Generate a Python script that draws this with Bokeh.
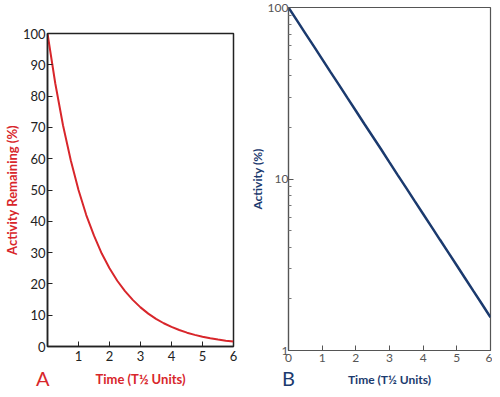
from bokeh.plotting import figure
from bokeh.layouts import row, column
from bokeh.models import (FixedTicker, Range1d, PrintfTickFormatter,
                          LinearAxis)
from bokeh.embed import file_html
from bokeh.resources import INLINE

# Data
time_units = [0, 0.25, 0.5, 0.75, 1, 1.25, 1.5, 1.75, 2, 2.25, 2.5, 2.75, 3,
              3.25, 3.5, 3.75, 4, 4.25, 4.5, 4.75, 5, 5.25, 5.5, 5.75, 6]
activity_pct = [100, 84.1, 70.7, 59.5, 50, 42.0, 35.4, 29.7, 25, 21.0, 17.7,
                14.9, 12.5, 10.5, 8.84, 7.43, 6.25, 5.26, 4.42, 3.72, 3.13,
                2.63, 2.21, 1.86, 1.56]
x_ticks_a = [1, 2, 3, 4, 5, 6]
y_ticks_a = [0, 10, 20, 30, 40, 50, 60, 70, 80, 90, 100]
x_ticks_b = [0, 1, 2, 3, 4, 5, 6]
y_ticks_b = [1, 10, 100]
y_minor_b = [2, 3, 4, 5, 6, 7, 8, 9, 20, 30, 40, 50, 60, 70, 80, 90]
panel_letters = ["A\u00a0\u00a0", "B"]

RED = "#d8262b"
BLUE = "#1b3a6e"
FONT = "Lato"
XLABEL = "Time (T½ Units)"


def letter_axis(text, color, label_size, s1, s2):
    # bare axis below the x axis: its single tick label is the panel letter,
    # its axis label is the x-axis title (pulled up to the letter's line)
    return LinearAxis(ticker=FixedTicker(ticks=[0]),
                      major_label_overrides={0: text},
                      axis_line_color=None, major_tick_line_color=None,
                      minor_tick_line_color=None,
                      major_tick_in=0, major_tick_out=0,
                      major_label_text_font=FONT,
                      major_label_text_font_size="20px",
                      major_label_text_color=color,
                      major_label_standoff=s1,
                      axis_label=XLABEL,
                      axis_label_text_font=FONT,
                      axis_label_text_font_style="bold",
                      axis_label_text_color=color,
                      axis_label_text_font_size=label_size,
                      axis_label_standoff=s2)


# ---- Panel A (linear) ----
pa = figure(width=246, height=389, output_backend="svg", toolbar_location=None,
            x_range=Range1d(0, 6), y_range=Range1d(0, 100),
            min_border_left=0, min_border_right=13, min_border_top=33,
            min_border_bottom=0)
pa.line(time_units, activity_pct, line_color=RED, line_width=2)
pa.grid.visible = False
pa.outline_line_color = "#222222"
pa.outline_line_width = 1.5

pa.xaxis.ticker = FixedTicker(ticks=x_ticks_a)
pa.yaxis.ticker = FixedTicker(ticks=y_ticks_a)
for ax in (pa.xaxis[0], pa.yaxis[0]):
    ax.axis_line_color = "#222222"
    ax.axis_line_width = 1.5
    ax.major_tick_line_color = "#222222"
    ax.major_tick_in = 5
    ax.major_tick_out = 0
    ax.minor_tick_line_color = None
    ax.major_label_text_font = FONT
    ax.major_label_text_font_size = "13px"
    ax.major_label_text_color = "#222222"
    ax.axis_label_text_font = FONT
    ax.axis_label_text_font_style = "bold"
    ax.axis_label_text_color = RED
    ax.axis_label_text_font_size = "13px"
pa.yaxis.major_label_standoff = 2
pa.xaxis.major_label_standoff = 4
pa.yaxis.axis_label = "Activity Remaining (%)"
pa.yaxis.axis_label_standoff = 0
pa.add_layout(letter_axis(panel_letters[0], RED, "13px", 2, -22), "below")

# ---- Panel B (log) ----
pb = figure(width=246, height=389, output_backend="svg", toolbar_location=None,
            x_range=Range1d(0, 6), y_range=Range1d(1, 100), y_axis_type="log",
            min_border_left=42, min_border_right=2, min_border_top=7,
            min_border_bottom=0)
pb.line(time_units, activity_pct, line_color=BLUE, line_width=2.5)
pb.grid.visible = False
pb.outline_line_color = "#555555"
pb.outline_line_width = 1.2

pb.xaxis.ticker = FixedTicker(ticks=x_ticks_b)
pb.yaxis.ticker = FixedTicker(ticks=y_ticks_b, minor_ticks=y_minor_b)
pb.yaxis.formatter = PrintfTickFormatter(format="%d")
for ax in (pb.xaxis[0], pb.yaxis[0]):
    ax.axis_line_color = "#555555"
    ax.axis_line_width = 1.2
    ax.major_tick_line_color = "#555555"
    ax.minor_tick_line_color = "#777777"
    ax.major_tick_in = 5
    ax.major_tick_out = 0
    ax.minor_tick_in = 3
    ax.minor_tick_out = 0
    ax.major_label_text_font = FONT
    ax.major_label_text_font_size = "12px"
    ax.major_label_text_color = "#555555"
    ax.axis_label_text_font = FONT
    ax.axis_label_text_font_style = "bold"
    ax.axis_label_text_color = BLUE
    ax.axis_label_text_font_size = "12px"
pb.xaxis.minor_tick_line_color = None
pb.yaxis.major_label_standoff = 0
pb.xaxis.major_label_standoff = 3
pb.yaxis.axis_label = "Activity (%)"
pb.yaxis.axis_label_standoff = 0
pb.add_layout(letter_axis(panel_letters[1], BLUE, "12px", 1, -21), "below")

layout = row(column(pa), column(pb))
open("out.html", "w").write(file_html(layout, INLINE))
